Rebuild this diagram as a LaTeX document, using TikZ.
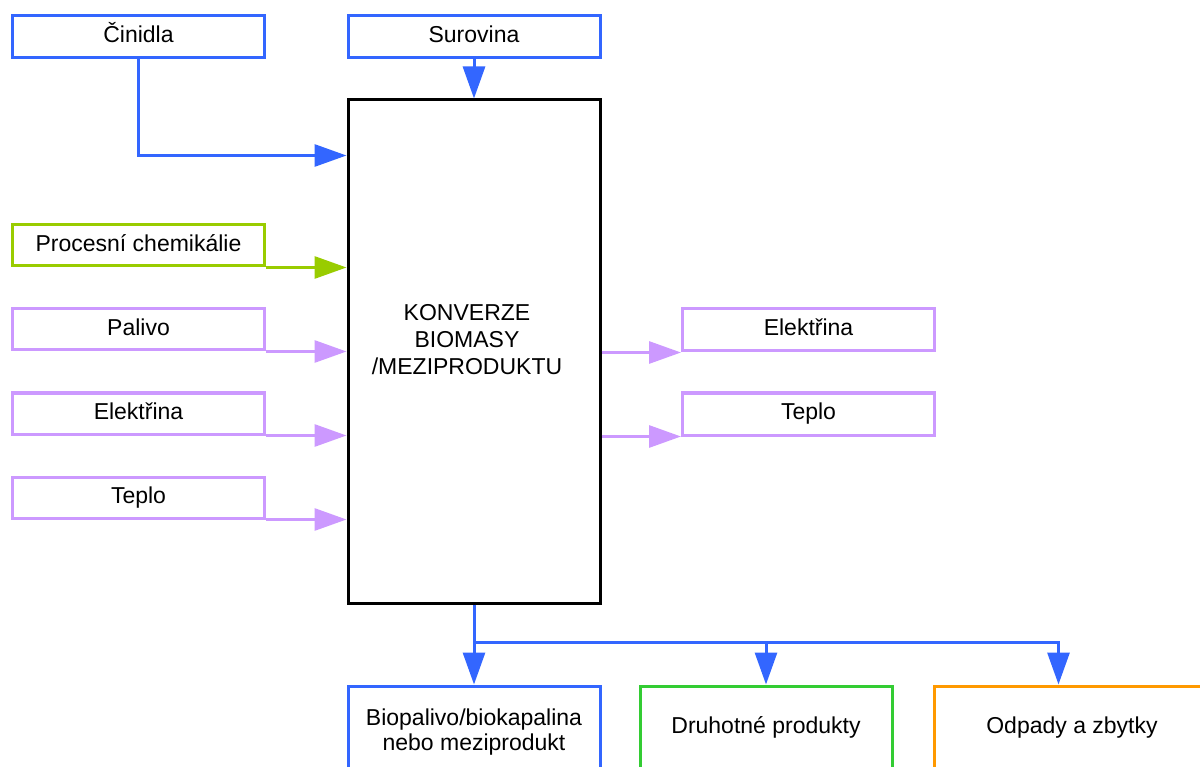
\documentclass[tikz,border=0pt]{standalone}
\usepackage{fontspec}
\setmainfont{Liberation Sans}
\usetikzlibrary{arrows.meta,calc}

\definecolor{flowblue}{HTML}{3366FF}
\definecolor{flowpurple}{HTML}{CC99FF}
\definecolor{flowlime}{HTML}{99CC00}
\definecolor{flowgreen}{HTML}{33CC33}
\definecolor{floworange}{HTML}{FF9900}

\tikzset{
  box/.style={draw, line width=3pt, fill=white, minimum width=252pt, minimum height=42pt,
    inner sep=0pt, text height=17pt, text depth=5pt, font=\fontsize{23}{27}\selectfont},
  lowbox/.style={draw, line width=3pt, fill=white, minimum width=252pt, minimum height=82pt,
    inner sep=0pt, align=center, font=\fontsize{23}{25}\selectfont},
  flow/.style={line width=3pt, -{Triangle[length=32pt,width=22pt]}},
}

\begin{document}
\begin{tikzpicture}[x=1pt,y=-1pt]
\useasboundingbox (0,0) rectangle (1200,767);
\clip (0,0) rectangle (1200,767);

% central process
\node[draw, line width=3pt, minimum width=252pt, minimum height=503pt, inner sep=0pt] (main) at (474,351.5) {};
\node[align=center, font=\fontsize{23}{27}\selectfont, inner sep=0pt] (maintext) at (467,340)
  {KONVERZE\\BIOMASY\\/MEZIPRODUKTU};

% inputs
\node[box, draw=flowblue] (cin) at (138.5,36.5) {Činidla};
\node[box, draw=flowblue] (sur) at (474,36.5) {Surovina};
\node[box, draw=flowlime, minimum height=41pt] (chem) at (138.5,245.5) {Procesní chemikálie};
\node[box, draw=flowpurple, minimum height=41pt] (pal) at (138.5,329.5) {Palivo};
\node[box, draw=flowpurple, minimum height=41pt] (elin) at (138.5,413.5) {Elektřina};
\node[box, draw=flowpurple, minimum height=41pt] (tepin) at (138.5,497.5) {Teplo};

% energy outputs
\node[box, draw=flowpurple] (elout) at (808.5,330) {Elektřina};
\node[box, draw=flowpurple] (tepout) at (808.5,414) {Teplo};

% products
\node[lowbox, draw=flowblue, minimum height=92pt] (bio) at (474,732) {Biopalivo/biokapalina\\nebo meziprodukt};
\node[lowbox, draw=flowgreen, text height=17pt, text depth=5pt] (dru) at (766,727) {Druhotné produkty};
\node[lowbox, draw=floworange, minimum width=276pt, text height=17pt, text depth=5pt] (odp) at (1072,727) {Odpady a zbytky};

% input connectors
\draw[flow, flowblue] (cin.south) |- ($(main.north west)+(0,57)$);
\draw[flow, flowblue] (sur.south) -- (main.north);
\draw[flow, flowlime] (chem.south east) -- (chem.south east -| main.west);
\draw[flow, flowpurple] (pal.south east) -- (pal.south east -| main.west);
\draw[flow, flowpurple] (elin.south east) -- (elin.south east -| main.west);
\draw[flow, flowpurple] (tepin.south east) -- (tepin.south east -| main.west);

% output connectors
\draw[flow, flowpurple] (elout.south west -| main.east) -- (elout.south west);
\draw[flow, flowpurple] (tepout.south west -| main.east) -- (tepout.south west);

% product branches
\coordinate (split) at ($(main.south)!0.48!(bio.north)$);
\coordinate (odpin) at ($(odp.north west)+(126,0)$);
\draw[flow, flowblue] (main.south) -- (bio.north);
\draw[flow, flowblue] (split) -| (dru.north);
\draw[flow, flowblue] (split) -| (odpin);
\end{tikzpicture}
\end{document}
